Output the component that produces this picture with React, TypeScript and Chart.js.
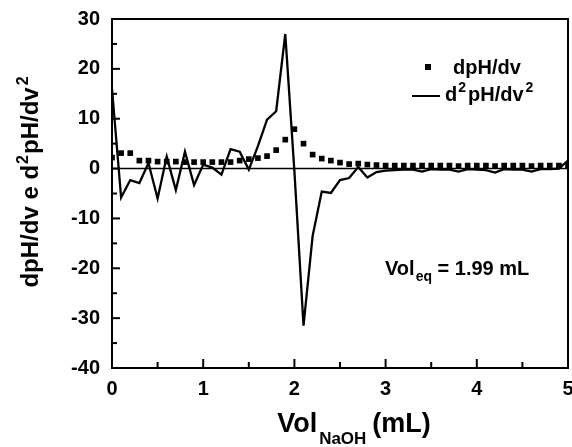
import React, { useEffect, useRef } from "react";
import { Chart, registerables } from "chart.js";

Chart.register(...registerables);

const volumes = [
  0, 0.1, 0.2, 0.3, 0.4, 0.5, 0.6, 0.7, 0.8, 0.9,
  1.0, 1.1, 1.2, 1.3, 1.4, 1.5, 1.6, 1.7, 1.8, 1.9,
  2.0, 2.1, 2.2, 2.3, 2.4, 2.5, 2.6, 2.7, 2.8, 2.9,
  3.0, 3.1, 3.2, 3.3, 3.4, 3.5, 3.6, 3.7, 3.8, 3.9,
  4.0, 4.1, 4.2, 4.3, 4.4, 4.5, 4.6, 4.7, 4.8, 4.9, 5.0,
];

const dpHdv = [
  2.2, 3.1, 3.1, 1.6, 1.6, 1.4, 1.4, 1.4, 1.3, 1.3,
  1.3, 1.3, 1.3, 1.3, 1.6, 1.9, 2.1, 2.5, 3.7, 5.8,
  7.9, 5.0, 2.8, 2.0, 1.6, 1.2, 0.9, 1.0, 0.8, 0.7,
  0.6, 0.6, 0.6, 0.6, 0.6, 0.6, 0.6, 0.6, 0.5, 0.6,
  0.6, 0.6, 0.5, 0.6, 0.6, 0.6, 0.5, 0.6, 0.6, 0.6, 0.6,
];

const d2pHdv2 = [
  16, -5.8, -2.3, -2.9, 1.1, -6.0, 2.4, -4.3, 3.4, -3.3,
  0.8, 0.2, -1.2, 3.9, 3.4, -0.2, 4.5, 9.8, 11.5, 27,
  -0.5, -31.5, -13.5, -4.6, -4.9, -2.3, -1.9, 0.3, -1.8, -0.7,
  -0.4, -0.3, -0.2, -0.2, -0.6, -0.1, -0.2, -0.2, -0.6, -0.1,
  -0.2, -0.3, -0.8, -0.1, -0.2, -0.2, -0.6, -0.1, -0.1, 0.0, 1.6,
];

const seriesNames = ["dpH/dv", "d²pH/dv²"];
const xTicks = [0, 1, 2, 3, 4, 5];
const yTicks = [-40, -30, -20, -10, 0, 10, 20, 30];
const annotationText = { main: "Vol", sub: "eq", rest: " = 1.99 mL" };

const FONT = '"Liberation Sans", Arial, Helvetica, sans-serif';

type Part = { text: string; size: number; dy?: number; gap?: number };

function richWidth(ctx: CanvasRenderingContext2D, parts: Part[]) {
  let w = 0;
  for (const p of parts) {
    ctx.font = `bold ${p.size}px ${FONT}`;
    w += ctx.measureText(p.text).width + (p.gap || 0);
  }
  return w;
}

function drawRich(ctx: CanvasRenderingContext2D, parts: Part[], x: number, y: number) {
  let cx = x;
  ctx.textBaseline = "alphabetic";
  ctx.textAlign = "left";
  for (const p of parts) {
    ctx.font = `bold ${p.size}px ${FONT}`;
    ctx.fillText(p.text, cx, y + (p.dy || 0));
    cx += ctx.measureText(p.text).width + (p.gap || 0);
  }
}

const decorPlugin = {
  id: "decor",
  beforeDatasetsDraw(chart: any) {
    const { ctx, chartArea, scales } = chart;
    const y0 = scales.y.getPixelForValue(0);
    ctx.save();
    ctx.strokeStyle = "#000";
    ctx.lineWidth = 1.5;
    ctx.beginPath();
    ctx.moveTo(chartArea.left, y0);
    ctx.lineTo(chartArea.right, y0);
    ctx.stroke();
    ctx.restore();
  },
  afterDraw(chart: any) {
    const { ctx, chartArea, scales } = chart;
    const { left, right, top, bottom } = chartArea;
    ctx.save();
    ctx.strokeStyle = "#000";
    ctx.fillStyle = "#000";
    // frame
    ctx.lineWidth = 2;
    ctx.strokeRect(left, top, right - left, bottom - top);
    // y ticks (inward)
    for (let v = -40; v <= 30; v += 5) {
      const py = scales.y.getPixelForValue(v);
      const len = v % 10 === 0 ? 8 : 5;
      ctx.beginPath();
      ctx.moveTo(left, py);
      ctx.lineTo(left + len, py);
      ctx.stroke();
    }
    // x ticks (inward)
    for (let i = 0; i <= 10; i++) {
      const v = i * 0.5;
      const px = scales.x.getPixelForValue(v);
      const len = i % 2 === 0 ? 9 : 6;
      ctx.beginPath();
      ctx.moveTo(px, bottom);
      ctx.lineTo(px, bottom - len);
      ctx.stroke();
    }

    // x axis title
    const xParts: Part[] = [
      { text: "Vol", size: 27, gap: 2 },
      { text: "NaOH", size: 17, dy: 12, gap: 6 },
      { text: "(mL)", size: 27 },
    ];
    const xw = richWidth(ctx, xParts);
    drawRich(ctx, xParts, (left + right) / 2 + 14 - xw / 2, 432);

    // y axis title
    const yParts: Part[] = [
      { text: "dpH/dv e d", size: 24, gap: 1 },
      { text: "2", size: 16, dy: -10, gap: 1 },
      { text: "pH/dv", size: 24, gap: 2 },
      { text: "2", size: 16, dy: -10 },
    ];
    const yw = richWidth(ctx, yParts);
    ctx.save();
    ctx.translate(38, 182);
    ctx.rotate(-Math.PI / 2);
    drawRich(ctx, yParts, -yw / 2, 0);
    ctx.restore();

    // legend
    ctx.fillRect(425, 64, 6, 6);
    drawRich(ctx, [{ text: seriesNames[0], size: 20 }], 453, 74);
    ctx.lineWidth = 2;
    ctx.beginPath();
    ctx.moveTo(412, 96);
    ctx.lineTo(440, 96);
    ctx.stroke();
    drawRich(
      ctx,
      [
        { text: "d", size: 20, gap: 1 },
        { text: "2", size: 14, dy: -9, gap: 2 },
        { text: "pH/dv", size: 20, gap: 2 },
        { text: "2", size: 14, dy: -9 },
      ],
      445,
      101
    );

    // annotation
    drawRich(
      ctx,
      [
        { text: annotationText.main, size: 20, gap: 1 },
        { text: annotationText.sub, size: 14, dy: 6 },
        { text: annotationText.rest, size: 20 },
      ],
      385,
      275
    );
    ctx.restore();
  },
};

export default function App() {
  const canvasRef = useRef<HTMLCanvasElement | null>(null);

  useEffect(() => {
    if (!canvasRef.current) return;
    const chart = new Chart(canvasRef.current, {
      type: "line",
      data: {
        datasets: [
          {
            label: seriesNames[0],
            data: volumes.map((v, i) => ({ x: v, y: dpHdv[i] })),
            showLine: false,
            pointStyle: "rect",
            pointRadius: 4,
            pointBackgroundColor: "#000",
            pointBorderWidth: 0,
            borderColor: "#000",
            backgroundColor: "#000",
          },
          {
            label: seriesNames[1],
            data: volumes.map((v, i) => ({ x: v, y: d2pHdv2[i] })),
            borderColor: "#000",
            borderWidth: 2.3,
            pointRadius: 0,
            tension: 0,
            fill: false,
          },
        ],
      },
      options: {
        responsive: false,
        animation: false,
        events: [],
        layout: { padding: { top: 19, right: 4, left: 0, bottom: 0 } },
        plugins: {
          legend: { display: false },
          tooltip: { enabled: false },
          title: { display: false },
        },
        scales: {
          x: {
            type: "linear",
            min: 0,
            max: 5,
            afterFit: (s: any) => {
              s.height = 79;
              s.paddingLeft = 0;
              s.paddingRight = 0;
            },
            afterBuildTicks: (s: any) => {
              s.ticks = xTicks.map((v) => ({ value: v }));
            },
            grid: { display: false, drawTicks: false },
            border: { display: false },
            ticks: {
              padding: 9,
              color: "#000",
              font: { family: FONT, size: 20, weight: "bold" },
            },
          },
          y: {
            type: "linear",
            min: -40,
            max: 30,
            afterFit: (s: any) => {
              s.width = 112;
              s.paddingTop = 0;
              s.paddingBottom = 0;
            },
            afterBuildTicks: (s: any) => {
              s.ticks = yTicks.map((v) => ({ value: v }));
            },
            grid: { display: false, drawTicks: false },
            border: { display: false },
            ticks: {
              padding: 12,
              color: "#000",
              font: { family: FONT, size: 20, weight: "bold" },
            },
          },
        },
      },
      plugins: [decorPlugin],
    } as any);
    return () => chart.destroy();
  }, []);

  return (
    <div style={{ position: "fixed", left: 0, top: 0, width: 572, height: 447, background: "#fff" }}>
      <canvas ref={canvasRef} width={572} height={447} style={{ display: "block" }} />
    </div>
  );
}
